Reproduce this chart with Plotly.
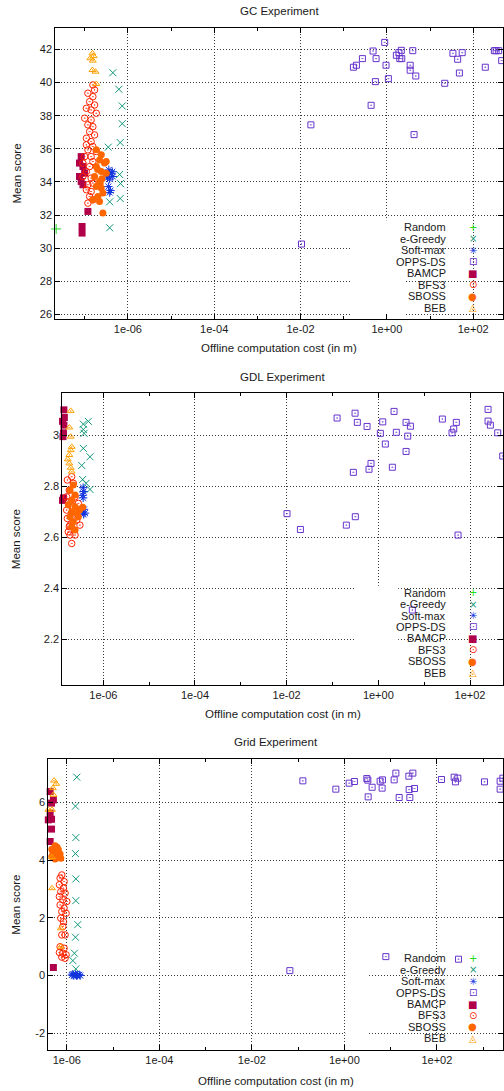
import plotly.graph_objects as go

W, H = 504, 1091

NAMES = ["Random", "e-Greedy", "Soft-max", "OPPS-DS", "BAMCP", "BFS3", "SBOSS", "BEB"]

# ---------------- data (x = log10 of offline cost in m, y = mean score) ----------------
# GC experiment
gc_random_lx = [-7.66]
gc_random_y = [31.16]
gc_egreedy_lx = [-6.347, -6.208, -6.13, -6.13, -6.176, -6.453, -6.19, -6.17, -6.176, -6.42, -6.42]
gc_egreedy_y = [40.6, 39.6, 38.59, 37.52, 36.38, 36.1, 34.45, 33.9, 33.0, 32.8, 31.23]
gc_softmax_lx = [-6.44, -6.38, -6.49, -6.35, -6.42, -6.45, -6.40, -6.42, -6.36, -6.47]
gc_softmax_y = [34.73, 34.53, 34.43, 34.33, 34.17, 33.72, 33.48, 33.36, 34.62, 34.25]
gc_opps_lx = [-0.775, -0.705, -0.566, -0.32, -0.25, -0.05, -0.02, -0.266, 0.035, -0.365,
              0.22, 0.28, 0.335, 0.30, 0.345, 0.6, 0.54, 0.54, 0.67, 1.34,
              1.53, 1.64, 1.745, 1.68, 2.28, 2.49, 2.53, 2.59, 2.66, 0.63,
              -1.977, -1.76]
gc_opps_y = [40.93, 41.05, 41.45, 41.91, 41.45, 42.43, 41.05, 40.06, 40.24, 38.63,
             41.65, 41.81, 41.95, 41.45, 41.45, 41.93, 41.05, 40.75, 40.4, 39.96,
             41.77, 41.41, 41.81, 40.58, 40.93, 41.93, 41.93, 41.93, 41.33, 36.86,
             30.25, 37.45]
gc_bamcp_lx = [-7.08, -7.12, -7.04, -7.0, -7.12, -7.08, -7.04, -6.925, -7.06, -7.06]
gc_bamcp_y = [35.53, 35.14, 34.93, 34.53, 34.33, 34.03, 33.83, 32.22, 31.31, 30.91]
gc_bfs3_lx = [-6.809, -6.77, -6.925, -6.81, -6.885, -6.77, -6.96, -6.85, -7.0, -6.85,
              -6.925, -6.81, -6.885, -6.77, -6.96, -6.85, -6.81, -6.925, -6.73, -7.0,
              -6.85, -7.04, -6.885, -6.96, -7.04, -6.85, -6.925, -6.96, -6.85, -6.885,
              -6.81, -6.925, -6.73, -6.96, -6.81, -6.81]
gc_bfs3_y = [39.86, 39.56, 39.36, 39.15, 38.85, 38.65, 38.45, 38.35, 37.85, 37.75,
             37.45, 37.34, 37.04, 36.84, 36.64, 36.44, 36.14, 35.94, 35.84, 35.53,
             35.53, 35.14, 34.93, 34.63, 34.33, 34.23, 33.83, 33.53, 33.42, 33.12,
             32.92, 32.72, 38.15, 36.24, 35.23, 33.93]
gc_sboss_lx = [-6.73, -6.615, -6.655, -6.54, -6.73, -6.615, -6.5, -6.77, -6.655, -6.73,
               -6.615, -6.578, -6.694, -6.81, -6.655, -6.578, -6.5, -6.60, -6.70, -6.64]
gc_sboss_y = [35.94, 35.64, 35.33, 35.14, 34.93, 34.63, 34.53, 34.33, 34.03, 33.72,
              33.63, 33.33, 33.12, 32.92, 32.82, 32.12, 35.23, 34.2, 34.75, 33.9]
gc_beb_lx = [-6.82, -6.87, -6.81, -6.82, -6.75, -6.73, -6.79]
gc_beb_y = [41.77, 41.47, 41.33, 40.76, 40.66, 39.92, 41.6]

# GDL experiment
gdl_random_lx = []
gdl_random_y = []
gdl_egreedy_lx = [-6.436, -6.327, -6.436, -6.42, -6.436, -6.29, -6.471, -6.45, -6.377, -6.29]
gdl_egreedy_y = [3.044, 3.055, 3.023, 3.008, 2.949, 2.916, 2.882, 2.827, 2.812, 2.788]
gdl_softmax_lx = [-6.44, -6.43, -6.45, -6.44, -6.42, -6.45, -6.40, -6.43]
gdl_softmax_y = [2.795, 2.78, 2.765, 2.755, 2.71, 2.70, 2.695, 2.69]
gdl_opps_lx = [-0.90, -0.508, -0.458, -0.246, -0.545, -0.203, -0.16, 0.096, 0.044, 0.153,
               0.343, 0.393, 0.306, 0.605, 0.70, 0.642, 0.605, 1.397, 1.702, 1.645,
               1.608, 2.394, 2.394, 2.444, 2.605, 2.714, -1.992, -1.70, -0.698, -0.502,
               1.739, 0.742]
gdl_opps_y = [3.068, 3.087, 3.051, 3.035, 2.855, 2.867, 2.89, 3.053, 3.008, 2.966,
              3.094, 3.012, 2.875, 3.051, 3.036, 2.997, 2.937, 3.064, 3.051, 3.025,
              3.01, 3.102, 3.056, 3.04, 3.01, 2.919, 2.693, 2.631, 2.648, 2.681,
              2.609, 2.315]
gdl_bamcp_lx = [-6.90, -6.86, -6.90, -6.85, -6.89, -6.86, -6.90, -6.87, -6.88, -6.90, -6.87, -6.89]
gdl_bamcp_y = [3.115, 3.10, 3.085, 3.07, 3.055, 3.04, 3.025, 3.01, 2.995, 2.77, 2.755, 2.745]
gdl_bfs3_lx = [-6.69, -6.785, -6.655, -6.742, -6.617, -6.764, -6.545, -6.8, -6.69, -6.785,
               -6.58, -6.727, -6.51, -6.764, -6.617, -6.69, -6.8, -6.655, -6.742, -6.727]
gdl_bfs3_y = [2.838, 2.825, 2.812, 2.785, 2.759, 2.74, 2.733, 2.707, 2.694, 2.674,
              2.668, 2.648, 2.648, 2.622, 2.609, 2.576, 2.759, 2.72, 2.642, 2.609]
gdl_sboss_lx = [-6.655, -6.727, -6.617, -6.69, -6.764, -6.617, -6.45, -6.69, -6.58, -6.727,
                -6.655, -6.545, -6.69, -6.617, -6.52]
gdl_sboss_y = [2.805, 2.785, 2.766, 2.746, 2.727, 2.72, 2.718, 2.70, 2.694, 2.681,
               2.661, 2.681, 2.642, 2.629, 2.707]
gdl_beb_lx = [-6.711, -6.742, -6.711, -6.69, -6.711, -6.742, -6.777, -6.742, -6.711, -6.69]
gdl_beb_y = [3.096, 3.031, 2.995, 2.955, 2.942, 2.923, 2.906, 2.89, 2.873, 2.858]

# Grid experiment
grid_random_lx = []
grid_random_y = []
grid_egreedy_lx = [-5.784, -5.813, -5.805, -5.813, -5.805, -5.805, -5.762, -5.813, -5.835, -5.87, -5.805]
grid_egreedy_y = [6.88, 5.875, 4.786, 4.23, 3.353, 2.6, 1.768, 1.33, 0.776, 0.52, 0.231]
grid_softmax_lx = [-5.89, -5.85, -5.81, -5.77, -5.73, -5.71, -5.87, -5.79]
grid_softmax_y = [0.02, 0.0, 0.04, 0.01, 0.03, 0.0, 0.05, 0.0]
grid_opps_lx = [-0.897, -0.184, 0.104, 0.218, 0.486, 0.508, 0.515, 0.601, 0.774, 0.824,
                0.817, 1.077, 1.114, 1.185, 1.395, 1.481, 1.401, 1.516, 1.416, 2.1,
                2.374, 2.454, 2.402, 3.03, 3.368, 3.427, 3.368, 0.897, -1.178, 2.468]
grid_opps_y = [6.753, 6.465, 6.672, 6.73, 6.833, 6.777, 6.198, 6.53, 6.74, 6.787,
               6.5, 6.787, 7.02, 6.175, 6.915, 7.02, 6.45, 6.486, 6.175, 6.8,
               6.88, 6.846, 6.718, 6.718, 6.74, 6.846, 6.465, 0.658, 0.173, 0.568]
grid_bamcp_lx = [-6.36, -6.29, -6.33, -6.36, -6.40, -6.33, -6.33, -6.36, -6.29]
grid_bamcp_y = [6.38, 6.09, 5.98, 5.63, 5.4, 5.42, 5.08, 4.65, 0.28]
grid_bfs3_lx = [-6.108, -6.145, -6.058, -6.16, -6.073, -6.13, -6.037, -6.16, -6.086, -6.0,
                -6.145, -6.058, -6.108, -6.015, -6.13, -6.073, -6.086, -6.108, -6.037,
                -6.145, -6.058, -6.16, -6.086, -6.015, -6.108, -6.037]
grid_bfs3_y = [3.49, 3.38, 3.26, 3.15, 3.03, 2.91, 2.86, 2.74, 2.63, 2.57,
               2.45, 2.34, 2.22, 2.16, 1.99, 1.87, 1.70, 1.41, 1.41,
               1.0, 0.95, 0.80, 0.78, 0.72, 0.64, 0.60]
grid_sboss_lx = [-6.253, -6.324, -6.182, -6.29, -6.145, -6.324, -6.253, -6.253, -6.13, -6.21, -6.30]
grid_sboss_y = [4.5, 4.38, 4.36, 4.24, 4.22, 4.13, 4.11, 4.04, 4.07, 4.45, 4.30]
grid_beb_lx = [-6.275, -6.23, -6.30, -6.29, -6.40, -6.32, -6.32, -6.32, -6.13, -6.13]
grid_beb_y = [6.76, 6.65, 6.5, 6.27, 5.75, 5.75, 4.11, 3.03, 1.64, 1.0]

x_tick_vals = [1e-6, 1e-4, 1e-2, 1, 100]
x_tick_text = ["1e-06", "1e-04", "1e-02", "1e+00", "1e+02"]
x_minor_vals = [1e-7, 1e-5, 1e-3, 1e-1, 10, 1000]

gc_y_ticks = [26, 28, 30, 32, 34, 36, 38, 40, 42]
gdl_y_ticks = [2.2, 2.4, 2.6, 2.8, 3.0]
gdl_y_text = ["2.2", "2.4", "2.6", "2.8", "3"]
grid_y_ticks = [-2, 0, 2, 4, 6]

# ---------------- styles ----------------
STYLE = {
    "Random":   dict(symbol="cross-thin-open", size=7, color="#22dd22", lw=1),
    "e-Greedy": dict(symbol="x-thin-open", size=7, color="#11997a", lw=1),
    "Soft-max": dict(symbol="asterisk-open", size=7, color="#1133dd", lw=1),
    "OPPS-DS":  dict(symbol="square-open-dot", size=6, color="#6633cc", lw=1),
    "BAMCP":    dict(symbol="square", size=7, color="#b0004a", lw=0),
    "BFS3":     dict(symbol="circle-open-dot", size=6.5, color="#ff2200", lw=1),
    "SBOSS":    dict(symbol="circle", size=7, color="#ff6600", lw=0),
    "BEB":      dict(symbol="triangle-up-open-dot", size=6, color="#ffa000", lw=1),
}
GLYPH = {"Random": "+", "e-Greedy": "×", "Soft-max": "✳", "OPPS-DS": "⊡",
         "BAMCP": "■", "BFS3": "⊙", "SBOSS": "●", "BEB": "◬"}

FONT = "Liberation Sans, Arial, sans-serif"
TXT = "#1a1a1a"

panels = [
    dict(title="GC Experiment", x0=55.3, x1=503, top=28, bot=319,
         xr=[-7.68, 2.69], yr=[25.72, 43.3], yt=gc_y_ticks, ytt=[str(v) for v in gc_y_ticks],
         title_y=11, xt_y=348, leg0=227.3, legdy=11.5,
         series=[(gc_random_lx, gc_random_y), (gc_egreedy_lx, gc_egreedy_y),
                 (gc_softmax_lx, gc_softmax_y), (gc_opps_lx, gc_opps_y),
                 (gc_bamcp_lx, gc_bamcp_y), (gc_bfs3_lx, gc_bfs3_y),
                 (gc_sboss_lx, gc_sboss_y), (gc_beb_lx, gc_beb_y)]),
    dict(title="GDL Experiment", x0=62.3, x1=503, top=393.3, bot=685,
         xr=[-6.895, 2.72], yr=[2.021, 3.165], yt=gdl_y_ticks, ytt=gdl_y_text,
         title_y=376.7, xt_y=714, leg0=592.7, legdy=11.43,
         series=[(gdl_random_lx, gdl_random_y), (gdl_egreedy_lx, gdl_egreedy_y),
                 (gdl_softmax_lx, gdl_softmax_y), (gdl_opps_lx, gdl_opps_y),
                 (gdl_bamcp_lx, gdl_bamcp_y), (gdl_bfs3_lx, gdl_bfs3_y),
                 (gdl_sboss_lx, gdl_sboss_y), (gdl_beb_lx, gdl_beb_y)]),
    dict(title="Grid Experiment", x0=48.3, x1=503, top=759.3, bot=1050,
         xr=[-6.40, 3.43], yr=[-2.58, 7.5], yt=grid_y_ticks, ytt=[str(v) for v in grid_y_ticks],
         title_y=742, xt_y=1080.7, leg0=958.3, legdy=11.43,
         series=[(grid_random_lx, grid_random_y), (grid_egreedy_lx, grid_egreedy_y),
                 (grid_softmax_lx, grid_softmax_y), (grid_opps_lx, grid_opps_y),
                 (grid_bamcp_lx, grid_bamcp_y), (grid_bfs3_lx, grid_bfs3_y),
                 (grid_sboss_lx, grid_sboss_y), (grid_beb_lx, grid_beb_y)]),
]

fig = go.Figure()
annotations = []
shapes = []
layout_axes = {}

for i, p in enumerate(panels, start=1):
    xa = "x" if i == 1 else f"x{i}"
    ya = "y" if i == 1 else f"y{i}"
    for name, (lx, yv) in zip(NAMES, p["series"]):
        if not lx:
            continue
        st = STYLE[name]
        fig.add_trace(go.Scatter(
            x=[10 ** v for v in lx], y=yv, mode="markers", name=name,
            xaxis=xa, yaxis=ya, showlegend=False, cliponaxis=False,
            marker=dict(symbol=st["symbol"], size=st["size"], color=st["color"],
                        line=dict(width=st["lw"], color=st["color"])),
        ))
    common = dict(showline=True, linecolor="black", linewidth=1, mirror="ticks",
                  ticks="inside", ticklen=5, tickcolor="black", tickwidth=1,
                  showgrid=True, gridcolor="#3a3a3a", gridwidth=1, griddash="1px,2px",
                  zeroline=False, tickfont=dict(family=FONT, size=11, color=TXT))
    layout_axes["xaxis" if i == 1 else f"xaxis{i}"] = dict(
        type="log", range=p["xr"], domain=[p["x0"] / W, p["x1"] / W], anchor=ya,
        tickvals=x_tick_vals, ticktext=x_tick_text,
        minor=dict(tickvals=x_minor_vals, ticks="inside", ticklen=3, tickcolor="black",
                   showgrid=False),
        **common)
    layout_axes["yaxis" if i == 1 else f"yaxis{i}"] = dict(
        range=p["yr"], domain=[1 - p["bot"] / H, 1 - p["top"] / H], anchor=xa,
        tickvals=p["yt"], ticktext=p["ytt"], **common)

    cx = (p["x0"] + p["x1"]) / 2
    annotations.append(dict(text=p["title"], x=cx / W, y=1 - p["title_y"] / H,
                            xref="paper", yref="paper", showarrow=False,
                            xanchor="center", yanchor="middle",
                            font=dict(family=FONT, size=11.5, color=TXT)))
    annotations.append(dict(text="Offline computation cost (in m)", x=cx / W,
                            y=1 - p["xt_y"] / H, xref="paper", yref="paper",
                            showarrow=False, xanchor="center", yanchor="middle",
                            font=dict(family=FONT, size=11.5, color=TXT)))
    annotations.append(dict(text="Mean score", x=16 / W,
                            y=1 - (p["top"] + p["bot"]) / 2 / H, xref="paper", yref="paper",
                            showarrow=False, xanchor="center", yanchor="middle", textangle=-90,
                            font=dict(family=FONT, size=11.5, color=TXT)))
    # legend background (opaque, hides grid), in data units of the subplot
    fx = (393 - p["x0"]) / (p["x1"] - p["x0"])
    fy = (p["bot"] - (p["leg0"] - 7)) / (p["bot"] - p["top"])
    lx0 = p["xr"][0] + fx * (p["xr"][1] - p["xr"][0])
    ly1 = p["yr"][0] + fy * (p["yr"][1] - p["yr"][0])
    shapes.append(dict(type="rect", xref=xa, yref=ya,
                       x0=lx0, x1=p["xr"][1], y0=p["yr"][0], y1=ly1, fillcolor="white",
                       line=dict(width=0), layer="between"))
    for k, name in enumerate(NAMES):
        ry = 1 - (p["leg0"] + k * p["legdy"]) / H
        annotations.append(dict(text=name, x=448.3 / W, y=ry, xref="paper", yref="paper",
                                showarrow=False, xanchor="right", yanchor="middle",
                                font=dict(family=FONT, size=11, color=TXT)))
        annotations.append(dict(text=GLYPH[name], x=472.7 / W, y=ry, xref="paper",
                                yref="paper", showarrow=False, xanchor="center",
                                yanchor="middle",
                                font=dict(family="DejaVu Sans", size=10,
                                          color=STYLE[name]["color"])))

fig.update_layout(
    width=W, height=H, margin=dict(l=0, r=0, t=0, b=0),
    paper_bgcolor="white", plot_bgcolor="white",
    showlegend=False, annotations=annotations, shapes=shapes,
    **layout_axes,
)

fig.write_html("out.html", config={"displayModeBar": False},
               post_script="document.body.style.margin='0';document.body.style.padding='0';"
                           "document.documentElement.style.overflow='hidden';")
